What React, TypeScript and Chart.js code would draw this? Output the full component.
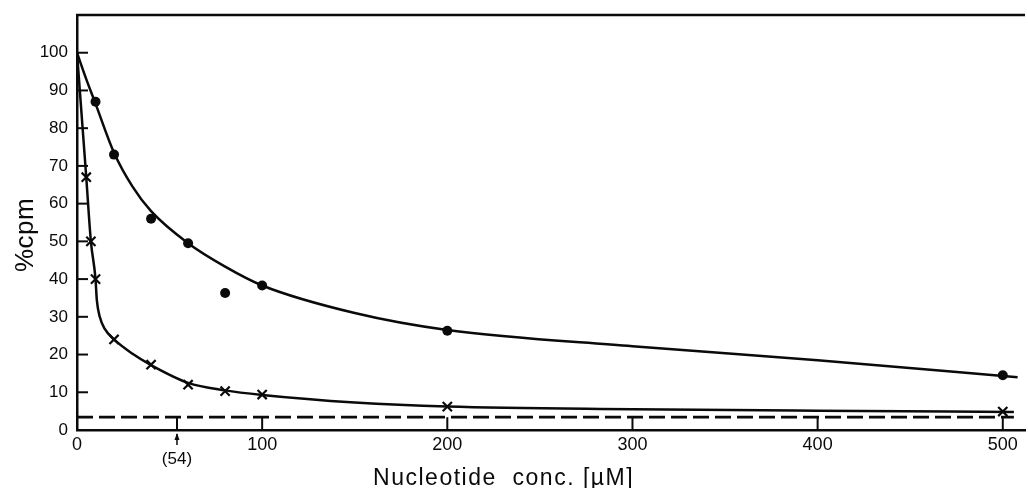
import React, { useEffect, useRef } from "react";
import { Chart, registerables } from "chart.js";

Chart.register(...registerables);

// ---- axes ----
const xMin = 0;
const xMax = 512;
const yMin = 0;
const yMax = 110;
const xTickValues = [0, 100, 200, 300, 400, 500];
const yTickValues = [0, 10, 20, 30, 40, 50, 60, 70, 80, 90, 100];
const xTickMarks = [54, 100, 200, 300, 400, 500];
const yTickMarks = [10, 20, 30, 40, 50, 60, 70, 80, 90, 100];

// ---- measured points ----
const dotX = [10, 20, 40, 60, 80, 100, 200, 500];
const dotY = [87, 73, 56, 49.5, 36.3, 38.3, 26.3, 14.5];
const crossX = [5, 7.5, 10, 20, 40, 60, 80, 100, 200, 500];
const crossY = [67, 50, 40, 24, 17.3, 12, 10.3, 9.4, 6.2, 4.9];

// ---- fitted curves ----
const dotCurveX = [0, 5, 10, 20, 30, 40, 60, 80, 100, 150, 200, 300, 400, 508];
const dotCurveY = [100, 93, 86.5, 73.5, 64.5, 58, 49.5, 43.3, 38.3, 31, 26.5, 22.2, 18.5, 14];
const crossCurveX = [0, 5, 7.5, 10, 10.7, 12.3, 15, 20, 30, 40, 60, 80, 100, 150, 200, 300, 400, 506];
const crossCurveY = [100, 67, 50, 40, 34.5, 30, 26.8, 24, 20.2, 17.2, 12.5, 10.5, 9.3, 7.3, 6.2, 5.5, 5.1, 4.8];

// ---- background level (dashed) ----
const baseX = [0, 506];
const baseY = [3.4, 3.4];

// ---- annotation ----
const markerValue = 54;
const markerLabel = "(54)";
const xTitle = "Nucleotide  conc. [µM]";
const yTitle = "%cpm";

const FONT = "'Liberation Sans', Arial, Helvetica, sans-serif";
const INK = "#0a0a0a";

const zip = (xs: number[], ys: number[]) => xs.map((x, i) => ({ x, y: ys[i] }));

const decorPlugin = {
  id: "decor",
  afterDraw(chart: any) {
    const { ctx, chartArea, scales } = chart;
    const xs = scales.x;
    const ys = scales.y;
    const { left, right, top, bottom } = chartArea;
    ctx.save();
    ctx.strokeStyle = INK;
    ctx.fillStyle = INK;
    ctx.lineCap = "butt";

    // top frame line
    ctx.lineWidth = 2.5;
    ctx.beginPath();
    ctx.moveTo(left - 1, top);
    ctx.lineTo(right, top);
    ctx.stroke();

    // inward y ticks
    ctx.lineWidth = 2;
    for (const v of yTickMarks) {
      const py = ys.getPixelForValue(v);
      ctx.beginPath();
      ctx.moveTo(left, py);
      ctx.lineTo(left + 11, py);
      ctx.stroke();
    }
    // inward x ticks up to the dashed level
    const yb = ys.getPixelForValue(baseY[0]);
    for (const v of xTickMarks) {
      const px = xs.getPixelForValue(v);
      ctx.beginPath();
      ctx.moveTo(px, bottom);
      ctx.lineTo(px, yb);
      ctx.stroke();
    }

    // arrow at marker
    const pm = xs.getPixelForValue(markerValue);
    ctx.lineWidth = 1.5;
    ctx.beginPath();
    ctx.moveTo(pm, bottom + 4);
    ctx.lineTo(pm, bottom + 15);
    ctx.stroke();
    ctx.beginPath();
    ctx.moveTo(pm, bottom + 3);
    ctx.lineTo(pm - 2.5, bottom + 10);
    ctx.lineTo(pm + 2.5, bottom + 10);
    ctx.closePath();
    ctx.fill();

    ctx.font = `17px ${FONT}`;
    ctx.textAlign = "center";
    ctx.textBaseline = "middle";
    ctx.fillText(markerLabel, pm, bottom + 29);

    // x title
    ctx.font = `23px ${FONT}`;
    (ctx as any).letterSpacing = "1.5px";
    ctx.textAlign = "center";
    ctx.textBaseline = "alphabetic";
    ctx.fillText(xTitle, left + (right - left) * 0.45, chart.height - 3);

    // y title
    (ctx as any).letterSpacing = "0.5px";
    ctx.font = `26px ${FONT}`;
    ctx.translate(33, top + (bottom - top) * 0.53);
    ctx.rotate(-Math.PI / 2);
    ctx.textAlign = "center";
    ctx.textBaseline = "alphabetic";
    ctx.fillText(yTitle, 0, 0);
    ctx.restore();
  },
};

export default function App() {
  const ref = useRef<HTMLCanvasElement | null>(null);

  useEffect(() => {
    document.body.style.margin = "0";
    const canvas = ref.current;
    if (!canvas) return;
    const lineDs = (label: string, data: any[], extra: any = {}) => ({
      label,
      data,
      showLine: true,
      borderColor: INK,
      borderWidth: 2.5,
      pointRadius: 0,
      pointHoverRadius: 0,
      cubicInterpolationMode: "monotone",
      fill: false,
      ...extra,
    });
    const chart = new Chart(canvas, {
      type: "scatter",
      data: {
        datasets: [
          lineDs("dot fit", zip(dotCurveX, dotCurveY)),
          lineDs("cross fit", zip(crossCurveX, crossCurveY)),
          lineDs("background", zip(baseX, baseY), {
            borderDash: [16, 6],
            borderWidth: 2.7,
            cubicInterpolationMode: "default",
            tension: 0,
          }),
          {
            label: "dots",
            data: zip(dotX, dotY),
            showLine: false,
            pointStyle: "circle",
            pointRadius: 5,
            backgroundColor: INK,
            borderColor: INK,
            borderWidth: 0,
          },
          {
            label: "crosses",
            data: zip(crossX, crossY),
            showLine: false,
            pointStyle: "crossRot",
            pointRadius: 6.5,
            backgroundColor: INK,
            borderColor: INK,
            borderWidth: 2.2,
          },
        ],
      },
      options: {
        animation: false,
        responsive: false,
        devicePixelRatio: 1,
        layout: { autoPadding: false, padding: { top: 15, right: 3, left: 0, bottom: 0 } },
        plugins: {
          legend: { display: false },
          tooltip: { enabled: false },
        },
        events: [],
        scales: {
          x: {
            type: "linear",
            min: xMin,
            max: xMax,
            afterBuildTicks: (s: any) => {
              s.ticks = xTickValues.map((value) => ({ value }));
            },
            afterFit: (s: any) => {
              s.height = 58;
              s.paddingLeft = 0;
              s.paddingRight = 0;
            },
            grid: { display: false, drawTicks: false },
            border: { display: true, color: INK, width: 2.5 },
            ticks: {
              color: INK,
              font: { family: FONT, size: 18, lineHeight: 1.2 },
              padding: 4,
              maxRotation: 0,
              autoSkip: false,
            },
          },
          y: {
            type: "linear",
            min: yMin,
            max: yMax,
            afterBuildTicks: (s: any) => {
              s.ticks = yTickValues.map((value) => ({ value }));
            },
            afterFit: (s: any) => {
              s.width = 77;
              s.paddingTop = 0;
              s.paddingBottom = 0;
            },
            grid: { display: false, drawTicks: false },
            border: { display: true, color: INK, width: 2.5 },
            ticks: {
              color: INK,
              font: { family: FONT, size: 17 },
              padding: 9,
              autoSkip: false,
            },
          },
        },
      },
      plugins: [decorPlugin],
    } as any);
    return () => chart.destroy();
  }, []);

  return (
    <div style={{ position: "fixed", left: 0, top: 0, width: 1028, height: 488, background: "#fff" }}>
      <canvas ref={ref} width={1028} height={488} style={{ display: "block" }} />
    </div>
  );
}
